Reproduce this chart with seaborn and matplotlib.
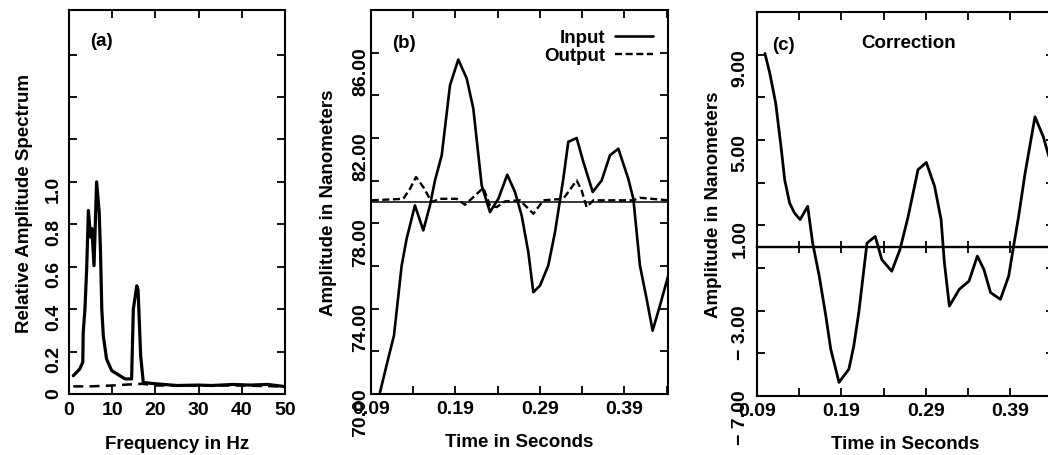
import matplotlib
matplotlib.use("Agg")
import matplotlib.pyplot as plt
import seaborn as sns
import numpy as np

# ---- panel (a): spectrum ----
freq_in = [1.0, 2.5, 3.2, 3.3, 3.7, 4.1, 4.5, 5.0, 5.3, 5.8, 6.4, 7.0, 7.3, 7.6, 7.95,
           8.7, 9.9, 11.8, 13.0, 14.5, 14.9, 15.7, 16.0, 16.6, 17.2, 19.0, 22.0, 25.0,
           30.0, 33.0, 38.0, 42.0, 46.0, 50.0]
amp_in = [0.086, 0.118, 0.15, 0.29, 0.40, 0.59, 0.865, 0.74, 0.78, 0.605, 1.0, 0.857,
          0.67, 0.40, 0.275, 0.165, 0.11, 0.086, 0.071, 0.071, 0.40, 0.51, 0.49, 0.18,
          0.055, 0.05, 0.045, 0.04, 0.042, 0.04, 0.045, 0.042, 0.045, 0.035]
freq_out = [1.0, 5.0, 10.0, 14.0, 17.0, 20.0, 30.0, 40.0, 50.0]
amp_out = [0.036, 0.036, 0.04, 0.045, 0.048, 0.04, 0.04, 0.04, 0.035]

# ---- panel (b): input / output ----
t_in = [0.1007, 0.1093, 0.1172, 0.1224, 0.1263, 0.1322, 0.142, 0.1519, 0.1598, 0.1657,
        0.1737, 0.1835, 0.1933, 0.2033, 0.2111, 0.221, 0.2308, 0.2407, 0.2513, 0.2604,
        0.2683, 0.2762, 0.2821, 0.29, 0.2998, 0.3078, 0.3176, 0.3235, 0.3334, 0.3413,
        0.3524, 0.363, 0.3728, 0.3827, 0.3945, 0.4005, 0.4083, 0.4162, 0.4233, 0.432, 0.4418]
v_in = [70.08, 71.49, 72.74, 74.62, 76.02, 77.28, 78.84, 77.67, 78.84, 80.01,
        81.19, 84.47, 85.68, 84.79, 83.38, 79.78, 78.53, 79.15, 80.28, 79.47,
        78.37, 76.65, 74.77, 75.08, 76.02, 77.59, 80.09, 81.82, 82.0, 80.88,
        79.47, 80.01, 81.19, 81.5, 80.09, 79.15, 76.02, 74.46, 72.97, 74.15, 75.55]
t_out = [0.0908, 0.1282, 0.1362, 0.1433, 0.1519, 0.1618, 0.1717, 0.1914, 0.2012, 0.2111,
         0.2229, 0.2308, 0.2387, 0.2486, 0.2663, 0.2822, 0.294, 0.3176, 0.3334, 0.3393,
         0.3452, 0.3531, 0.4005, 0.4083, 0.4418]
v_out = [79.08, 79.15, 79.62, 80.17, 79.7, 79.0, 79.15, 79.15, 78.87, 79.23,
         79.66, 78.84, 78.76, 79.03, 79.08, 78.45, 79.08, 79.15, 80.01, 79.54,
         78.76, 79.08, 79.08, 79.2, 79.08]
b_baseline = 79.0

# ---- panel (c): correction ----
t_corr = [0.0994, 0.1052, 0.1122, 0.1189, 0.1228, 0.1286, 0.1344, 0.1411, 0.15, 0.1559,
          0.1637, 0.1715, 0.1773, 0.1871, 0.1988, 0.2046, 0.2105, 0.2202, 0.23, 0.2378,
          0.2495, 0.2592, 0.2689, 0.2806, 0.2904, 0.3002, 0.3079, 0.3118, 0.3177, 0.3294,
          0.341, 0.3508, 0.3586, 0.3664, 0.3781, 0.3879, 0.3937, 0.3996, 0.4073, 0.419,
          0.4288, 0.44]
v_corr = [9.06, 8.13, 6.72, 4.54, 3.14, 2.05, 1.58, 1.27, 1.89, 0.17,
          -1.38, -3.25, -4.80, -6.36, -5.74, -4.65, -3.09, 0.17, 0.48, -0.61,
          -1.15, -0.14, 1.41, 3.61, 3.95, 2.83, 1.27, -0.75, -2.78, -2.0,
          -1.61, -0.44, -1.07, -2.15, -2.47, -1.38, 0.02, 1.41, 3.44, 6.09,
          5.16, 3.6]
c_baseline = 0.0

t_major = [0.09, 0.19, 0.29, 0.39]
t_minor = [0.14, 0.24, 0.34, 0.44]

sns.set_style("ticks")
plt.rcParams["font.family"] = ["Liberation Sans", "DejaVu Sans"]
plt.rcParams["font.weight"] = "bold"
plt.rcParams["axes.labelweight"] = "bold"
plt.rcParams["font.size"] = 13.5
plt.rcParams["axes.labelsize"] = 13.5
plt.rcParams["text.color"] = "black"
plt.rcParams["axes.labelcolor"] = "black"
plt.rcParams["xtick.color"] = "black"
plt.rcParams["ytick.color"] = "black"
plt.rcParams["axes.linewidth"] = 1.5

fig = plt.figure(figsize=(10.48, 4.56), dpi=100)
ax_a = fig.add_axes([0.0658, 0.1338, 0.2061, 0.842])
ax_b = fig.add_axes([0.354, 0.1338, 0.2834, 0.842])
ax_c = fig.add_axes([0.7223, 0.1294, 0.2834, 0.842])

for ax in (ax_a, ax_b, ax_c):
    for s in ax.spines.values():
        s.set_color("black")
        s.set_linewidth(1.5)
    ax.tick_params(which="both", direction="in", top=True, right=True,
                   length=6, width=1.3, color="black", labelsize=14)

# (a)
sns.lineplot(x=freq_in, y=amp_in, ax=ax_a, color="black", lw=2.3, estimator=None,
             sort=False)
sns.lineplot(x=freq_out, y=amp_out, ax=ax_a, color="black", lw=1.8,
             linestyle=(0, (4, 2.5)), estimator=None)
ax_a.set_xlim(0, 50)
ax_a.set_ylim(0, 1.81)
ax_a.set_xticks([0, 10, 20, 30, 40, 50])
ax_a.set_yticks([0, 0.2, 0.4, 0.6, 0.8, 1.0, 1.2, 1.4, 1.6],
                ["0", "0.2", "0.4", "0.6", "0.8", "1.0", "", "", ""])
ax_a.tick_params(axis="y", labelrotation=90, pad=5)
ax_a.tick_params(axis="x", pad=5)
ax_a.set_xlabel("Frequency in Hz", labelpad=12)
ax_a.set_ylabel("Relative Amplitude Spectrum", labelpad=9)
ax_a.text(0.15, 0.92, "(a)", transform=ax_a.transAxes, ha="center", va="center")

# (b)
ax_b.axhline(b_baseline, color="black", lw=1.1)
sns.lineplot(x=t_in, y=v_in, ax=ax_b, color="black", lw=1.9, estimator=None,
             label="Input")
sns.lineplot(x=t_out, y=v_out, ax=ax_b, color="black", lw=1.7, estimator=None,
             linestyle=(0, (3, 1.5)), label="Output")
ax_b.set_xlim(0.09, 0.4415)
ax_b.set_ylim(70, 88)
ax_b.set_xticks(t_major, [f"{t:.2f}" for t in t_major])
ax_b.set_xticks(t_minor, minor=True)
b_major = [70, 74, 78, 82, 86]
ax_b.set_yticks(b_major, [f"{v:.2f}" for v in b_major])
ax_b.set_yticks([72, 76, 80, 84, 88], minor=True)
ax_b.tick_params(axis="y", labelrotation=90, pad=1)
ax_b.tick_params(axis="x", pad=4)
ax_b.set_xlabel("Time in Seconds", labelpad=12)
ax_b.set_ylabel("Amplitude in Nanometers", labelpad=11)
ax_b.text(0.11, 0.915, "(b)", transform=ax_b.transAxes, ha="center", va="center")
ax_b.legend(loc="upper right", bbox_to_anchor=(0.98, 0.975), frameon=False,
            markerfirst=False, handlelength=2.0, handletextpad=0.5,
            labelspacing=0.05, borderpad=0, fontsize=13.5)

# (c)
sns.lineplot(x=t_corr, y=v_corr, ax=ax_c, color="black", lw=2.0, estimator=None)
c_lo, c_hi = -7, 11
ax_c.set_xlim(0.09, 0.4415)
ax_c.set_ylim(c_lo, c_hi)
ax_c.set_xticks(t_major, [f"{t:.2f}" for t in t_major])
ax_c.set_xticks(t_minor, minor=True)
c_major = [-7, -3, 1, 5, 9]
ax_c.set_yticks(c_major, [f"{v:.2f}".replace("-", "\u2212 ") for v in c_major])
ax_c.set_yticks([-5, -1, 3, 7, 11], minor=True)
ax_c.tick_params(axis="y", labelrotation=90, pad=6)
ax_c.tick_params(axis="x", pad=4)
ax_c.set_xlabel("Time in Seconds", labelpad=12)
ax_c.set_ylabel("Amplitude in Nanometers", labelpad=7)
ax_c.text(0.09, 0.915, "(c)", transform=ax_c.transAxes, ha="center", va="center")
ax_c.text(0.51, 0.92, "Correction", transform=ax_c.transAxes, ha="center", va="center")

# zero line with crossing ticks
zero_ax = ax_c.secondary_xaxis((c_baseline - c_lo) / (c_hi - c_lo))
zero_ax.set_xticks(t_major)
zero_ax.set_xticks(t_minor, minor=True)
zero_ax.tick_params(which="both", direction="inout", length=9, width=1.3,
                    color="black", labelbottom=False, labeltop=False)
for s in zero_ax.spines.values():
    s.set_linewidth(1.7)
    s.set_color("black")

fig.savefig("out.png", dpi=100)
